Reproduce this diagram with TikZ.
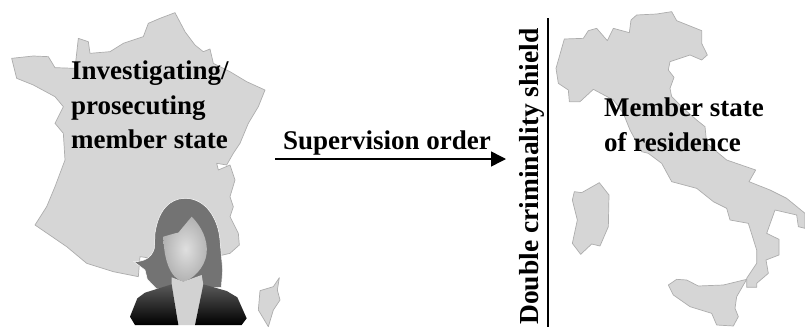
\documentclass[tikz,border=0pt]{standalone}
\usepackage{fontspec}
\setmainfont{Liberation Serif}
\usetikzlibrary{arrows.meta}
\definecolor{landgray}{gray}{0.84}
\definecolor{landedge}{gray}{0.68}
\definecolor{hairgray}{gray}{0.45}
\tikzset{
  land/.style={fill=landgray,draw=landedge,line width=0.7pt,line join=round},
  lbl/.style={font=\fontsize{27}{34.5}\selectfont\bfseries,align=left,anchor=north west,inner sep=0pt,text=black},
}
\begin{document}
\begin{tikzpicture}[x=1pt,y=-1pt]
\useasboundingbox (0,0) rectangle (805,327);
% France
\draw[land,xscale=1/3,yscale=1/3] (35,175)--(100,168)--(145,170)--(165,203)--(225,205)--(235,115)--(265,125)--(270,160)--(330,155)--(370,130)--(430,110)--(445,70)--(480,55)--(525,38)--(555,95)--(585,135)--(610,155)--(630,147)--(640,190)--(690,215)--(740,245)--(795,270)--(775,320)--(745,370)--(720,430)--(700,460)--(680,495)--(650,490)--(655,510)--(690,495)--(705,540)--(690,590)--(700,620)--(690,650)--(715,700)--(718,735)--(690,760)--(560,790)--(420,770)--(415,830)--(340,815)--(260,790)--(200,740)--(105,675)--(140,620)--(165,560)--(195,480)--(190,400)--(165,370)--(190,320)--(165,290)--(100,255)--(50,235)--cycle;
% Corsica
\begin{scope}[shift={(240,120)},xscale=1/3,yscale=1/3]
\draw[land] (118,473)--(100,500)--(60,512)--(55,570)--(85,620)--(100,570)--(120,540)--(112,510)--cycle;
\end{scope}
% Italy
\begin{scope}[shift={(530,0)},xscale=1/3,yscale=1/3]
\draw[land] (103,117)--(160,115)--(175,92)--(200,85)--(232,122)--(250,85)--(298,98)--(303,60)--(320,45)--(380,42)--(425,35)--(440,62)--(515,92)--(515,130)--(532,165)--(515,180)--(480,165)--(420,185)--(415,210)--(432,232)--(420,265)--(425,290)--(460,325)--(500,360)--(525,380)--(530,430)--(590,480)--(677,510)--(657,545)--(720,570)--(770,595)--(825,640)--(825,685)--(805,680)--(800,645)--(735,630)--(710,700)--(747,718)--(747,765)--(708,780)--(715,820)--(680,850)--(680,862)--(650,862)--(650,835)--(680,790)--(680,750)--(655,670)--(600,660)--(590,625)--(550,605)--(500,565)--(425,545)--(395,490)--(355,460)--(335,455)--(300,390)--(280,340)--(250,300)--(190,268)--(150,305)--(118,305)--(115,270)--(85,250)--(78,205)--cycle;
\draw[land] (133,575)--(155,578)--(208,548)--(237,585)--(235,680)--(210,738)--(185,732)--(152,763)--(127,730)--(142,660)--(127,600)--cycle;
\draw[land] (415,855)--(440,838)--(470,840)--(505,858)--(580,855)--(650,838)--(620,890)--(615,925)--(625,950)--(610,978)--(560,975)--(545,940)--(480,920)--(430,885)--cycle;
\end{scope}
% Person
\begin{scope}[shift={(120,190)},xscale=1/3,yscale=1/3]
\fill[hairgray,draw=white,line width=0.5pt] (155,295)--(110,297)--(82,268)--(75,240)--(42,215) .. controls (70,215) and (95,205) .. (103,175) -- (105,130) .. controls (115,60) and (150,25) .. (195,25) .. controls (260,25) and (295,90) .. (300,150) -- (308,240)--(304,292)--(250,295)--cycle;
\shade[inner color=gray!25,outer color=gray!60] (215,80) .. controls (245,110) and (264,150) .. (260,190) .. controls (255,235) and (215,270) .. (190,275) .. controls (150,265) and (132,210) .. (130,140) --(165,130)--(175,128)--cycle;
\fill[gray!35] (155,262)--(190,275)--(245,255)--(250,285)--(225,405)--(175,405)--(155,285)--cycle;
\shade[top color=gray!70!black,bottom color=black] (155,283)--(175,405)--(45,405)--(30,380)--(52,325)--(75,308)--cycle;
\shade[top color=gray!70!black,bottom color=black] (250,283)--(225,405)--(365,405)--(380,385)--(352,322)--(320,303)--cycle;
\end{scope}
% Labels
\node[lbl] (inv) at (71,61) {Investigating/\\prosecuting\\member state};
\node[lbl] (res) at (604,98) {Member state\\of residence};
\coordinate (as) at (275,159);
\coordinate (ae) at (506,159);
\draw[line width=1.5pt,-{Triangle[length=15pt,width=15pt]}] (as)--(ae);
\node[lbl,anchor=base west] (so) at (283,149) {Supervision order};
\coordinate (bs) at (548,18);
\coordinate (be) at (548,327);
\draw[line width=1.6pt] (bs)--(be);
\node[lbl,rotate=90,anchor=base west,font=\fontsize{27.5}{34}\selectfont\bfseries] (dc) at (538,325) {Double criminality shield};
\end{tikzpicture}
\end{document}
